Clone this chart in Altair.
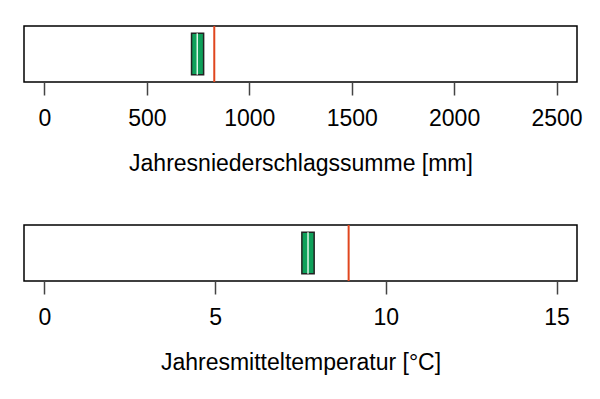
import altair as alt
import pandas as pd

titles = ["Jahresniederschlagssumme [mm]", "Jahresmitteltemperatur [°C]"]
q1 = [718, 7.54]
median = [746, 7.72]
q3 = [777, 7.90]
reference = [829, 8.91]
domains = [[-100, 2600], [-0.6, 15.6]]
ticks = [[0, 500, 1000, 1500, 2000, 2500], [0, 5, 10, 15]]

GREEN = "#0FA05A"
RED = "#E0461E"
FONT = "Liberation Sans"


def panel(i):
    df = pd.DataFrame({"q1": [q1[i]], "q3": [q3[i]], "med": [median[i]],
                       "ref": [reference[i]], "y0": [0.13], "y1": [0.87]})
    xs = alt.Scale(domain=domains[i], nice=False, zero=False)
    ys = alt.Scale(domain=[0, 1])
    xaxis = alt.Axis(values=ticks[i], title=titles[i], grid=False, domain=False,
                     format="d", tickSize=13, tickWidth=1.5, tickColor="#444444",
                     labelFontSize=23, labelFont=FONT, labelColor="black",
                     labelPadding=12, titleFontSize=23, titleFont=FONT,
                     titleFontWeight="normal", titleColor="black", titlePadding=22,
                     labelFlush=False)
    base = alt.Chart(df)
    box = base.mark_rect(fill=GREEN, stroke="#222222", strokeWidth=1.5).encode(
        x=alt.X("q1:Q", scale=xs, axis=xaxis),
        x2="q3",
        y=alt.Y("y0:Q", scale=ys, axis=None),
        y2="y1",
    )
    med = base.mark_rule(color="#E0F8E8", strokeWidth=1.5).encode(
        x=alt.X("med:Q", scale=xs),
        y=alt.Y("y0:Q", scale=ys),
        y2="y1",
    )
    ref = base.mark_rule(color=RED, strokeWidth=2).encode(
        x=alt.X("ref:Q", scale=xs),
        y=alt.value(0),
        y2=alt.value(56),
    )
    return alt.layer(box, med, ref).properties(width=553, height=56)


chart = alt.vconcat(panel(0), panel(1), spacing=47).properties(
    padding={"left": 23, "top": 24, "right": 10, "bottom": 5}
).configure(background="white").configure_view(stroke="black", strokeWidth=1.5)

chart.save("out.html", embed_options={"renderer": "svg", "actions": False})
